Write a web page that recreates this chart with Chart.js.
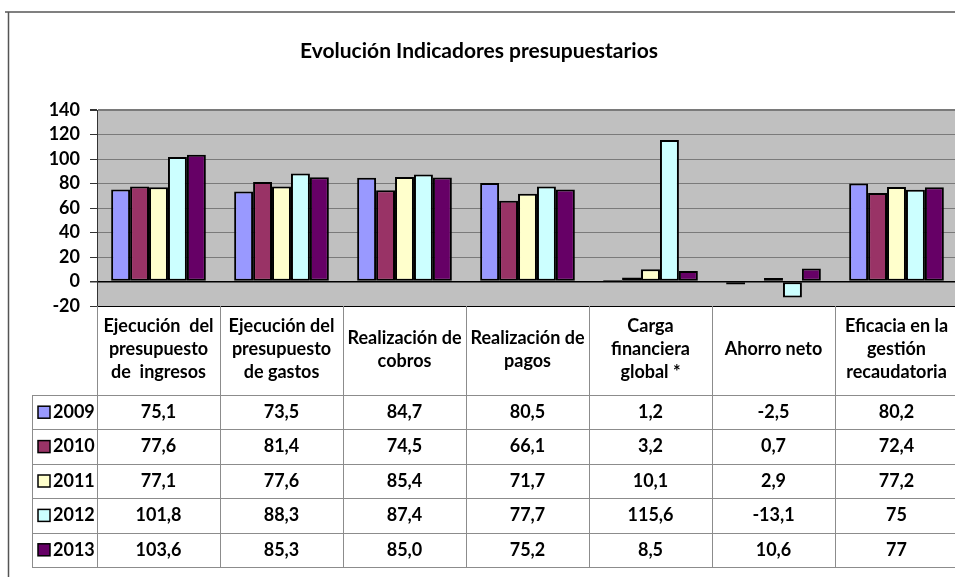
<!DOCTYPE html>
<html>
<head>
<meta charset="utf-8">
<script src="https://cdn.jsdelivr.net/npm/chart.js@4.4.1/dist/chart.umd.min.js"></script>
<style>
  html, body { margin: 0; padding: 0; overflow: hidden; background: #fff; }
  #contenedor { width: 960px; height: 577px; position: relative; }
</style>
</head>
<body>
<div id="contenedor"><canvas id="graficoIndicadores"></canvas></div>
<script>
    // Datos del gráfico (textos tal como salen en la tabla)
    var categorias = [
        ['Ejecución  del', 'presupuesto', 'de  ingresos'],
        ['Ejecución del', 'presupuesto', 'de gastos'],
        ['Realización de', 'cobros'],
        ['Realización de', 'pagos'],
        ['Carga', 'financiera', 'global *'],
        ['Ahorro neto'],
        ['Eficacia en la', 'gestión', 'recaudatoria']
    ];
    var anios = ['2009', '2010', '2011', '2012', '2013'];
    var serie2009 = ['75,1', '73,5', '84,7', '80,5', '1,2', '-2,5', '80,2'];
    var serie2010 = ['77,6', '81,4', '74,5', '66,1', '3,2', '0,7', '72,4'];
    var serie2011 = ['77,1', '77,6', '85,4', '71,7', '10,1', '2,9', '77,2'];
    var serie2012 = ['101,8', '88,3', '87,4', '77,7', '115,6', '-13,1', '75'];
    var serie2013 = ['103,6', '85,3', '85,0', '75,2', '8,5', '10,6', '77'];
    var colores = ['#9999FF', '#993366', '#FFFFCC', '#CCFFFF', '#660066'];

    var series = [serie2009, serie2010, serie2011, serie2012, serie2013];
    var fuente = 'Lato, "Open Sans", sans-serif';

    function aNumero(texto) {
        return parseFloat(texto.replace(',', '.'));
    }

    var datos = {
        labels: categorias,
        datasets: series.map(function (s, i) {
            return {
                label: anios[i],
                data: s.map(aNumero),
                backgroundColor: colores[i],
                borderColor: '#000',
                borderWidth: 2,
                borderSkipped: false,
                categoryPercentage: 0.77,
                barPercentage: 1
            };
        })
    };

    // Fondo, marco y tabla de datos debajo del gráfico
    var tablaDatos = {
        id: 'tablaDatos',
        beforeDraw: function (chart) {
            var ctx = chart.ctx, a = chart.chartArea;
            ctx.save();
            ctx.fillStyle = '#fff';
            ctx.fillRect(0, 0, chart.width, chart.height);
            ctx.strokeStyle = '#808080';
            ctx.lineWidth = 2;
            ctx.beginPath();
            ctx.moveTo(5, 12); ctx.lineTo(chart.width, 12);
            ctx.stroke();
            ctx.strokeStyle = '#555';
            ctx.lineWidth = 1.5;
            ctx.beginPath();
            ctx.moveTo(8.5, 12); ctx.lineTo(8.5, chart.height);
            ctx.stroke();
            ctx.fillStyle = '#C0C0C0';
            ctx.fillRect(a.left, a.top, a.right - a.left, a.bottom - a.top);
            ctx.restore();
        },
        afterDraw: function (chart) {
            var ctx = chart.ctx, a = chart.chartArea;
            var n = categorias.length;
            var ancho = (a.right - a.left) / n;
            var altoCabecera = 89, altoFila = 34.4, izquierda = 32;
            var yFilas = a.bottom + altoCabecera;
            var yFin = yFilas + altoFila * anios.length;
            ctx.save();
            ctx.strokeStyle = '#8c8c8c';
            ctx.lineWidth = 1;
            ctx.beginPath();
            for (var i = 0; i <= n; i++) {
                var x = Math.round(a.left + i * ancho) + 0.5;
                ctx.moveTo(x, a.bottom); ctx.lineTo(x, yFin);
            }
            ctx.moveTo(izquierda + 0.5, yFilas); ctx.lineTo(izquierda + 0.5, yFin);
            for (var f = 0; f <= anios.length; f++) {
                var y = Math.round(yFilas + f * altoFila) + 0.5;
                ctx.moveTo(izquierda, y); ctx.lineTo(chart.width, y);
            }
            ctx.stroke();

            ctx.fillStyle = '#000';
            ctx.font = 'bold 18px ' + fuente;
            ctx.textAlign = 'center';
            ctx.textBaseline = 'middle';
            var xs = chart.scales.x;
            categorias.forEach(function (lineas, i) {
                var cx = xs.getPixelForValue(i);
                var cy = a.bottom + altoCabecera / 2 - 1;
                lineas.forEach(function (t, k) {
                    ctx.fillText(t, cx, cy + (k - (lineas.length - 1) / 2) * 23);
                });
            });
            series.forEach(function (s, f) {
                var cy = yFilas + (f + 0.5) * altoFila;
                ctx.textAlign = 'center';
                ctx.fillStyle = '#000';
                s.forEach(function (t, i) {
                    ctx.fillText(t, xs.getPixelForValue(i), cy);
                });
                ctx.fillStyle = colores[f];
                ctx.fillRect(38, cy - 6, 12, 12);
                ctx.strokeStyle = '#000';
                ctx.lineWidth = 1.5;
                ctx.strokeRect(38, cy - 6, 12, 12);
                ctx.fillStyle = '#000';
                ctx.textAlign = 'left';
                ctx.fillText(anios[f], 53, cy);
            });
            ctx.restore();
        }
    };

    var opciones = {
        responsive: true,
        maintainAspectRatio: false,
        animation: false,
        layout: { padding: { top: 0, left: 0, right: 2, bottom: 271 } },
        plugins: {
            legend: { display: false },
            tooltip: { enabled: false },
            title: {
                display: true,
                text: 'Evolución Indicadores presupuestarios',
                color: '#000',
                font: { family: fuente, size: 21, weight: 'bold' },
                padding: { top: 39, bottom: 46 }
            }
        },
        scales: {
            x: { display: false },
            y: {
                min: -20,
                max: 140,
                afterFit: function (escala) { escala.width = 97; },
                ticks: {
                    stepSize: 20,
                    autoSkip: false,
                    color: '#000',
                    padding: 10,
                    font: { family: fuente, size: 18, weight: 'bold' }
                },
                grid: {
                    tickLength: 7,
                    tickColor: '#333',
                    color: function (c) {
                        if (c.tick.value === 0 || c.tick.value === -20) return '#000';
                        return '#7a7a7a';
                    },
                    lineWidth: function (c) {
                        if (c.tick.value === 0) return 1.5;
                        if (c.tick.value === 140) return 2;
                        return 1;
                    }
                },
                border: { color: '#333', width: 1 }
            }
        }
    };

    var ctx = document.getElementById('graficoIndicadores').getContext('2d');
    var graficoIndicadores = new Chart(ctx, {
        type: 'bar',
        data: datos,
        options: opciones,
        plugins: [tablaDatos]
    });
</script>
</body>
</html>
